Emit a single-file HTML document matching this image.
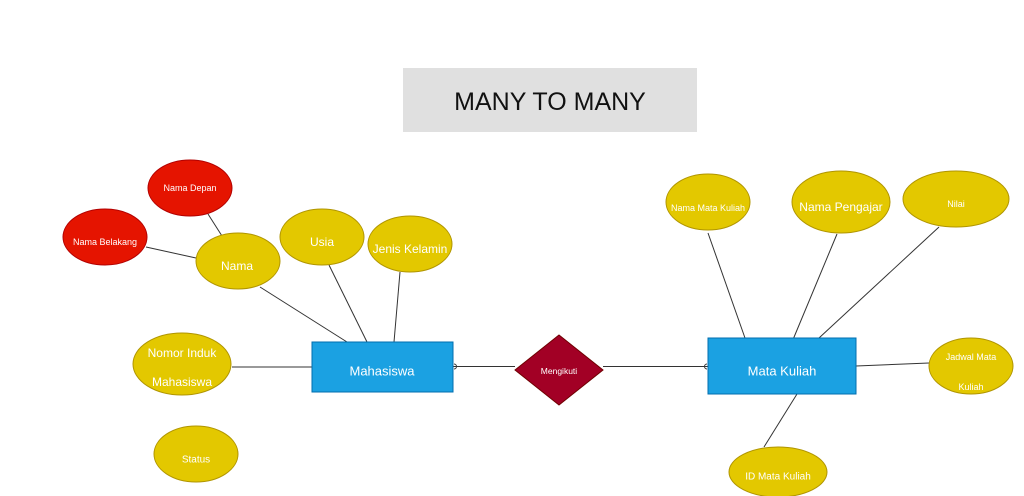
<!DOCTYPE html>
<html><head><meta charset="utf-8"><style>
html,body{margin:0;padding:0;background:#fff;}
svg{display:block;}
text{font-family:"Liberation Sans",Arial,sans-serif;fill:#fff;text-anchor:middle;dominant-baseline:central;}
</style></head><body>
<svg width="1024" height="496" viewBox="0 0 1024 496" xmlns="http://www.w3.org/2000/svg">
<rect x="0" y="0" width="1024" height="496" fill="#fff"/>
<!-- title -->
<rect x="403" y="68" width="294" height="64" fill="#e0e0e0"/>
<text x="550" y="102" font-size="25" style="fill:#111">MANY TO MANY</text>

<!-- lines -->
<g stroke="#333" stroke-width="1" fill="none">
<line x1="208" y1="214" x2="222" y2="236"/>
<line x1="146" y1="247" x2="196" y2="258"/>
<line x1="260" y1="287" x2="347" y2="342"/>
<line x1="329" y1="265" x2="367" y2="342"/>
<line x1="400" y1="272" x2="394" y2="342"/>
<line x1="232" y1="367" x2="312" y2="367"/>
<line x1="453" y1="366.5" x2="515" y2="366.5"/>
<line x1="603" y1="366.5" x2="708" y2="366.5"/>
<line x1="708" y1="233" x2="745" y2="338"/>
<line x1="837" y1="234" x2="792" y2="342"/>
<line x1="939" y1="227" x2="819" y2="338"/>
<line x1="856" y1="366" x2="929" y2="363"/>
<line x1="797" y1="394" x2="764" y2="447"/>
<path d="M454 364 A2.5 2.5 0 0 1 454 369"/>
<path d="M707 364 A2.5 2.5 0 0 0 707 369"/>
</g>

<!-- left attributes -->
<g stroke-width="1">
<ellipse cx="190" cy="188" rx="42" ry="28" fill="#e51400" stroke="#b20000"/>
<ellipse cx="105" cy="237" rx="42" ry="28" fill="#e51400" stroke="#b20000"/>
<ellipse cx="238" cy="261" rx="42" ry="28" fill="#e3c800" stroke="#b09500"/>
<ellipse cx="322" cy="237" rx="42" ry="28" fill="#e3c800" stroke="#b09500"/>
<ellipse cx="410" cy="244" rx="42" ry="28" fill="#e3c800" stroke="#b09500"/>
<ellipse cx="182" cy="364" rx="49" ry="31" fill="#e3c800" stroke="#b09500"/>
<ellipse cx="196" cy="454" rx="42" ry="28" fill="#e3c800" stroke="#b09500"/>
<rect x="312" y="342" width="141" height="50" fill="#1ba1e2" stroke="#006eaf"/>
<polygon points="559,335 603,370 559,405 515,370" fill="#a20025" stroke="#6f0000"/>
<rect x="708" y="338" width="148" height="56" fill="#1ba1e2" stroke="#006eaf"/>
<ellipse cx="708" cy="202" rx="42" ry="28" fill="#e3c800" stroke="#b09500"/>
<ellipse cx="841" cy="202" rx="49" ry="31" fill="#e3c800" stroke="#b09500"/>
<ellipse cx="956" cy="199" rx="53" ry="28" fill="#e3c800" stroke="#b09500"/>
<ellipse cx="971" cy="366" rx="42" ry="28" fill="#e3c800" stroke="#b09500"/>
<ellipse cx="778" cy="472" rx="49" ry="25" fill="#e3c800" stroke="#b09500"/>
</g>

<text x="190" y="188" font-size="9">Nama Depan</text>
<text x="105" y="242" font-size="9">Nama Belakang</text>
<text x="237" y="266" font-size="12">Nama</text>
<text x="322" y="242" font-size="12">Usia</text>
<text x="410" y="249" font-size="12">Jenis Kelamin</text>
<text x="182" y="353" font-size="12">Nomor Induk</text>
<text x="182" y="382" font-size="12">Mahasiswa</text>
<text x="196" y="460" font-size="10">Status</text>
<text x="382" y="371" font-size="13">Mahasiswa</text>
<text x="559" y="371" font-size="8.5">Mengikuti</text>
<text x="782" y="371" font-size="13">Mata Kuliah</text>
<text x="708" y="208" font-size="9">Nama Mata Kuliah</text>
<text x="841" y="207" font-size="12">Nama Pengajar</text>
<text x="956" y="204" font-size="9">Nilai</text>
<text x="971" y="357" font-size="9">Jadwal  Mata</text>
<text x="971" y="387" font-size="9">Kuliah</text>
<text x="778" y="477" font-size="10">ID Mata Kuliah</text>
</svg>
</body></html>
